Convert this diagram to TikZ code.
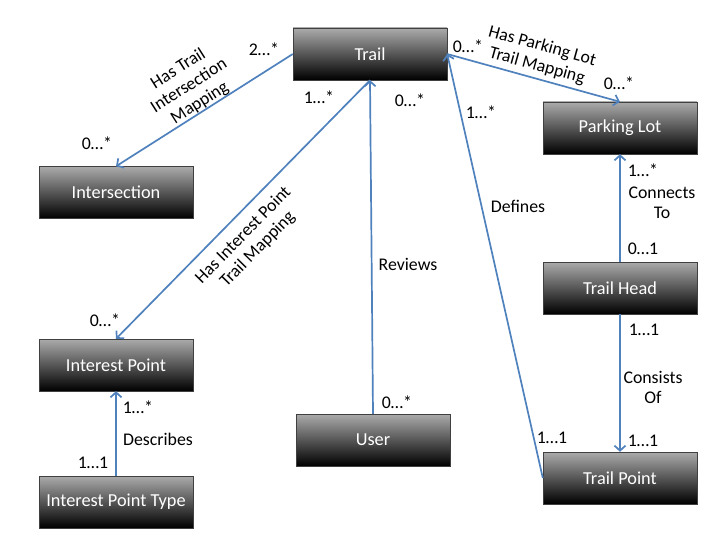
\documentclass[tikz,border=0pt]{standalone}
\usepackage{fontspec}
\setmainfont{Carlito}
\usepackage{tikz}
\usetikzlibrary{arrows.meta}
\definecolor{linkblue}{HTML}{4F81BD}
\tikzset{entity/.style={draw=black!75, top color=black!33, bottom color=black, text=white, minimum width=154pt, minimum height=52pt, inner sep=0pt, font=\fontsize{18.3}{20}\selectfont}}
\tikzset{link/.style={linkblue, line width=1.7pt, -{Straight Barb[length=5pt,width=11pt]}}}
\tikzset{mult/.style={inner sep=0pt, text=black}}
\tikzset{relname/.style={align=center, inner sep=0pt, text=black}}

\begin{document}
\begin{tikzpicture} [x=1pt, y=-1pt, font=\fontsize{17.8}{20}\selectfont]
\useasboundingbox (0,0) rectangle (720,540);

% entities
\node[entity] (trail) at (370,54) {Trail};
\node[entity] (intersection) at (116,192.5) {Intersection};
\node[entity] (parkinglot) at (620,128) {Parking Lot};
\node[entity] (trailhead) at (620,288) {Trail Head};
\node[entity] (interestpoint) at (116,365) {Interest Point};
\node[entity] (pointtype) at (116,502) {Interest Point Type};
\node[entity] (user) at (373,440) {User};
\node[entity] (trailpoint) at (620,478) {Trail Point};

% relations
\draw[link] (trail.west) -- node[midway, sloped, above, relname] (hasint) {Has Trail\\Intersection\\Mapping} (intersection.north);
\draw[link] (trail.south) -- node[pos=.55, sloped, below, relname, inner sep=10pt] (hasip) {Has Interest Point\\Trail Mapping} (interestpoint.north);
\draw[link] (user.north) -- (trail.south);
\draw[link] (trailpoint.west) -- (trail.east);
\draw[link] (trail.east) -- node[midway, sloped, above, relname, inner sep=4pt] (haspl) {Has Parking Lot\\Trail Mapping} (parkinglot.north);
\draw[link] (trailhead.north) -- (parkinglot.south);
\draw[link] (trailhead.south) -- (trailpoint.north);
\draw[link] (pointtype.north) -- (interestpoint.south);

% relation names
\node[relname] (reviews) at (408,264) {Reviews};
\node[relname] (defines) at (518,206) {Defines};
\node[relname] (describes) at (158,439) {Describes};
\node[relname] (connects) at (662,203) {Connects\\To};
\node[relname] (consists) at (653,387) {Consists\\Of};

% multiplicities
\foreach \x/\y/\txt [count=\i] in {264/49/2…*, 97/143/0…*, 319/97/1…*, 410/100/0…*,
  468/46/0…*, 481/112/1…*, 619/83/0…*, 643/170/1…*, 643/249/0…1, 644/330/1…1,
  643/441/1…1, 552/438/1…1, 397/402/0…*, 105/320/0…*, 138/407/1…*, 93/463/1…1} {
  \node[mult] (mult\i) at (\x,\y) {\txt};
}
\end{tikzpicture}
\end{document}
